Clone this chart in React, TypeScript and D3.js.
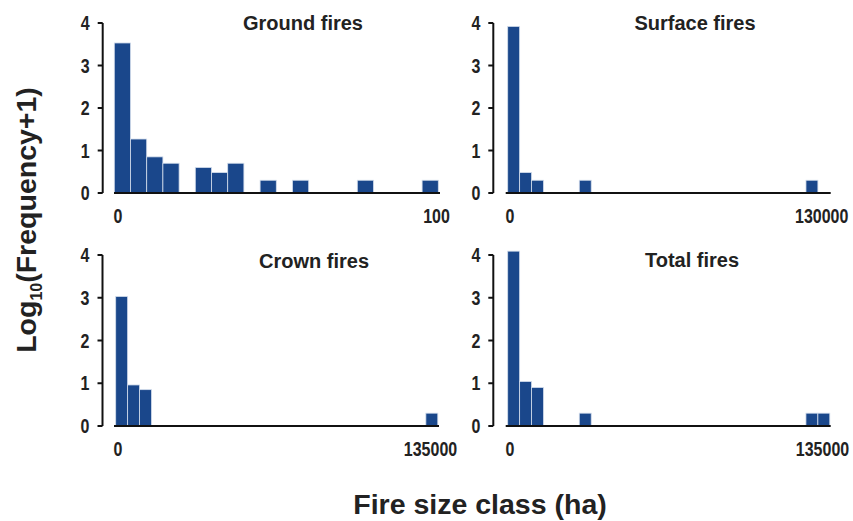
import React from "react";
import * as d3 from "d3";

// Log10(Frequency+1) per fire-size bin (5 ha bins for ground fires, 5000 ha bins otherwise)
const groundValues = [3.53, 1.27, 0.85, 0.7, 0, 0.6, 0.48, 0.7, 0, 0.3, 0, 0.3, 0, 0, 0, 0.3, 0, 0, 0, 0.3];
const surfaceValues = [3.92, 0.48, 0.3, 0, 0, 0, 0.3, 0, 0, 0, 0, 0, 0, 0, 0, 0, 0, 0, 0, 0, 0, 0, 0, 0, 0, 0.3];
const crownValues = [3.03, 0.96, 0.85, 0, 0, 0, 0, 0, 0, 0, 0, 0, 0, 0, 0, 0, 0, 0, 0, 0, 0, 0, 0, 0, 0, 0, 0.3];
const totalValues = [4.09, 1.04, 0.9, 0, 0, 0, 0.3, 0, 0, 0, 0, 0, 0, 0, 0, 0, 0, 0, 0, 0, 0, 0, 0, 0, 0, 0.3, 0.3];

const panelTitles = ["Ground fires", "Surface fires", "Crown fires", "Total fires"];
const xMaxLabels = [100, 130000, 135000, 135000];
const yTicks = [0, 1, 2, 3, 4];

const FONT = "'Liberation Sans', Arial, Helvetica, sans-serif";
const BAR = "#1a478b";
const TICK_SIZE = 19.5;
const TICK_SX = 0.82;

type Layout = {
  values: number[];
  title: string;
  xMax: number;
  axisX: number;
  yTop: number;
  yBottom: number;
  baseStart: number;
  baseEnd: number;
  barStart: number;
  barEnd: number;
  labelLeft: number;
  labelRight: number;
  titleX: number;
  titleY: number;
};

const layouts: Layout[] = [
  { values: groundValues, title: panelTitles[0], xMax: xMaxLabels[0], axisX: 102.7, yTop: 23, yBottom: 193, baseStart: 114, baseEnd: 440, barStart: 114.3, barEnd: 438.3, labelLeft: 118, labelRight: 436.5, titleX: 303, titleY: 30 },
  { values: surfaceValues, title: panelTitles[1], xMax: xMaxLabels[1], axisX: 493.3, yTop: 23, yBottom: 193, baseStart: 505.7, baseEnd: 830.7, barStart: 507.7, barEnd: 817.9, labelLeft: 510, labelRight: 821.7, titleX: 695, titleY: 30 },
  { values: crownValues, title: panelTitles[2], xMax: xMaxLabels[2], axisX: 102.5, yTop: 255, yBottom: 426, baseStart: 114, baseEnd: 439, barStart: 115.7, barEnd: 437.8, labelLeft: 118, labelRight: 430.5, titleX: 314, titleY: 268 },
  { values: totalValues, title: panelTitles[3], xMax: xMaxLabels[3], axisX: 493.3, yTop: 255, yBottom: 426, baseStart: 505.7, baseEnd: 830.7, barStart: 507.7, barEnd: 829.8, labelLeft: 510, labelRight: 822.5, titleX: 692, titleY: 267 },
];

function TickText({ x, y, anchor, children }: { x: number; y: number; anchor: string; children: React.ReactNode }) {
  return (
    <text
      transform={`translate(${x},${y}) scale(${TICK_SX},1)`}
      textAnchor={anchor}
      fontSize={TICK_SIZE}
      fontWeight="bold"
      fontFamily={FONT}
      fill="#222"
    >
      {children}
    </text>
  );
}

function Panel({ p }: { p: Layout }) {
  const y = d3.scaleLinear().domain([0, 4]).range([p.yBottom, p.yTop]);
  const x = d3.scaleLinear().domain([0, p.values.length]).range([p.barStart, p.barEnd]);
  const xl = d3.scaleLinear().domain([0, p.xMax]).range([p.labelLeft, p.labelRight]);
  return (
    <g>
      {p.values.map((v, i) =>
        v > 0 ? (
          <rect
            key={i}
            x={x(i)}
            y={y(v)}
            width={x(i + 1) - x(i)}
            height={y(0) - y(v)}
            fill={BAR}
            stroke="#d3ddec"
            strokeWidth={0.8}
          />
        ) : null
      )}
      <line x1={p.axisX} x2={p.axisX} y1={y(4)} y2={y(0)} stroke="#111" strokeWidth={2} />
      {yTicks.map((t) => (
        <g key={t}>
          <line x1={p.axisX - 5} x2={p.axisX} y1={y(t)} y2={y(t)} stroke="#111" strokeWidth={2} />
          <TickText x={p.axisX - 13} y={y(t) + 7} anchor="end">
            {t}
          </TickText>
        </g>
      ))}
      <line x1={p.baseStart} x2={p.baseEnd} y1={y(0)} y2={y(0)} stroke="#111" strokeWidth={2} />
      {[0, p.xMax].map((t) => (
        <TickText key={t} x={xl(t)} y={y(0) + 30} anchor="middle">
          {t}
        </TickText>
      ))}
      <text x={p.titleX} y={p.titleY} textAnchor="middle" fontSize={20} fontWeight="bold" fontFamily={FONT} fill="#222">
        {p.title}
      </text>
    </g>
  );
}

export default function App() {
  return (
    <svg width={853} height={521} style={{ position: "absolute", left: 0, top: 0, background: "#fff" }}>
      <rect width={853} height={521} fill="#fff" />
      {layouts.map((p, i) => (
        <Panel key={i} p={p} />
      ))}
      <text x={480} y={514} textAnchor="middle" fontSize={28.5} fontWeight="bold" fontFamily={FONT} fill="#222">
        Fire size class (ha)
      </text>
      <text transform="translate(36,220) rotate(-90)" textAnchor="middle" fontSize={28.5} fontWeight="bold" fontFamily={FONT} fill="#222">
        Log
        <tspan fontSize={16} dy={6}>10</tspan>
        <tspan dy={-6}>(Frequency+1)</tspan>
      </text>
    </svg>
  );
}
